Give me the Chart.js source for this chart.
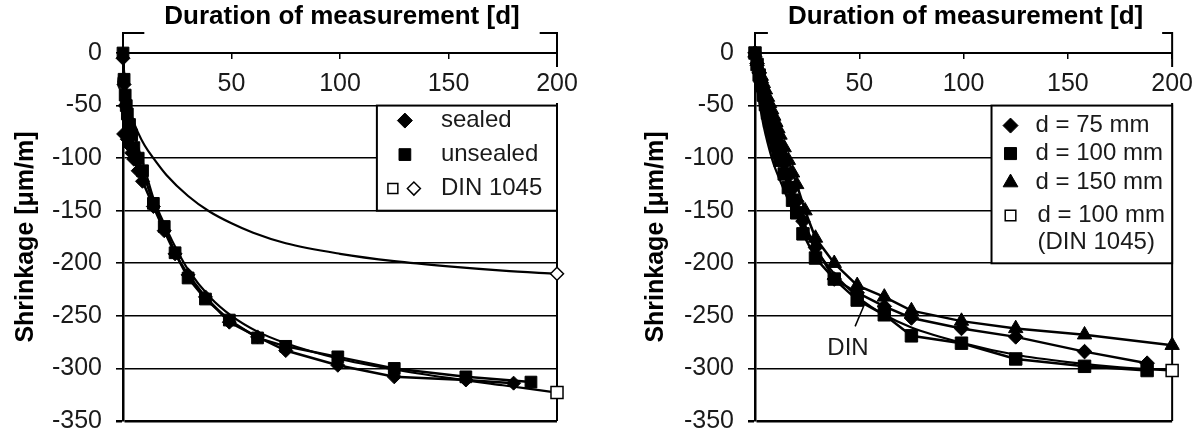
<!DOCTYPE html>
<html>
<head>
<meta charset="utf-8">
<script src="https://cdn.jsdelivr.net/npm/chart.js@4.4.1/dist/chart.umd.min.js"></script>
<style>
  html, body { margin: 0; padding: 0; background: #fff; }
  #wrap { position: relative; width: 1204px; height: 435px; }
  canvas { position: absolute; top: 0; }
</style>
</head>
<body>
<div id="wrap">
  <canvas id="leftChart" width="602" height="435" style="left:0"></canvas>
  <canvas id="rightChart" width="602" height="435" style="left:602px"></canvas>
</div>
<script>
const FONT = '"Liberation Sans", Arial, sans-serif';

// axis ticks + texts
const xTicks = [0, 50, 100, 150, 200];
const yTicks = [0, -50, -100, -150, -200, -250, -300, -350];
const xTitle = 'Duration of measurement [d]';
const yTitle = 'Shrinkage [μm/m]';
const leftLegendLabels = ['sealed', 'unsealed', 'DIN 1045'];
const rightLegendLabels = ['d = 75 mm', 'd = 100 mm', 'd = 150 mm', 'd = 100 mm', '(DIN 1045)'];

// left panel - sealed / unsealed specimens
const sealedDays = [0, 0.5, 1, 0.3, 2, 3, 4, 5, 7, 9, 14, 19, 24, 30, 38, 49, 62, 75, 99, 125, 158, 180];
const sealedShrink = [-5, -30, -50, -77, -82, -88, -95, -101, -112, -122, -146, -169, -191, -211, -232, -256, -270, -283, -297, -308, -311, -314];
const unsealedDays = [0, 0.5, 1, 1.5, 2, 3, 4, 5, 7, 9, 14, 19, 24, 30, 38, 49, 62, 75, 99, 125, 158, 188];
const unsealedShrink = [0, -25, -40, -50, -58, -68, -78, -90, -100, -112, -143, -165, -190, -214, -234, -254, -271, -279, -289, -300, -308, -313];
const dinSealedDays = [0, 0.5, 1, 2, 4, 7, 10, 14, 20, 30, 40, 50, 60, 75, 100, 125, 150, 175, 200];
const dinSealedShrink = [0, -18, -28, -42, -60, -76, -88, -100, -116, -136, -151, -162, -171, -181, -191, -198, -203, -207, -210];
const dinUnsealedDays = [0, 0.5, 1, 2, 4, 7, 10, 14, 20, 25, 30, 40, 50, 62, 75, 100, 125, 150, 175, 200];
const dinUnsealedShrink = [0, -20, -32, -46, -68, -90, -110, -138, -167, -188, -206, -232, -250, -265, -276, -291, -301, -309, -316, -323];

// right panel - specimen thickness
const d75Days = [0, 1, 2, 3, 4, 5, 6, 7, 8, 9, 10, 11, 12, 14, 16, 18, 20, 23, 29, 38, 49, 62, 75, 99, 125, 158, 188];
const d75Shrink = [0, -10, -19, -28, -36, -44, -52, -59, -66, -73, -80, -87, -93, -105, -117, -129, -141, -160, -185, -215, -228, -241, -252, -262, -270, -284, -295];
const d100Days = [0, 1, 2, 3, 4, 5, 6, 7, 8, 9, 10, 11, 12, 14, 16, 18, 20, 23, 29, 38, 49, 62, 75, 99, 125, 158, 188];
const d100Shrink = [0, -11, -21, -31, -40, -49, -57, -65, -73, -80, -88, -95, -102, -115, -128, -140, -152, -172, -195, -215, -235, -249, -269, -276, -291, -298, -302];
const d150Days = [0, 1, 2, 3, 4, 5, 6, 7, 8, 9, 10, 11, 12, 14, 16, 18, 20, 24, 29, 38, 49, 62, 75, 99, 125, 158, 200];
const d150Shrink = [0, -8, -15, -22, -29, -35, -42, -48, -54, -60, -66, -72, -78, -90, -102, -114, -125, -150, -176, -200, -221, -232, -245, -255, -262, -268, -278];
const dinRightDays = [0, 0.5, 1, 2, 4, 6, 9, 12, 16, 20, 28, 38, 50, 62, 75, 100, 125, 150, 175, 200];
const dinRightShrink = [0, -20, -32, -46, -68, -85, -106, -121, -140, -155, -183, -210, -233, -249, -261, -276, -287, -294, -299, -302];

// "DIN" note: text anchor, leader start, leader end (days, shrinkage)
const dinNoteText = [44.6, -281];
const dinNoteLine = [[48, -260], [52.7, -238]];

function pts(xs, ys) {
    return xs.map((x, i) => ({x: x, y: ys[i]}));
}

function measured(xs, ys, style, r) {
    return {
        data: pts(xs, ys),
        showLine: true,
        borderColor: '#000',
        borderWidth: 2.5,
        tension: 0,
        pointStyle: style,
        pointRadius: r,
        pointBackgroundColor: '#000',
        pointBorderColor: '#000',
        pointBorderWidth: 1,
        clip: false
    };
}

function dinCurve(xs, ys, endStyle, r) {
    const last = xs.length - 1;
    return {
        data: pts(xs, ys),
        showLine: true,
        borderColor: '#000',
        borderWidth: 2.2,
        cubicInterpolationMode: 'monotone',
        pointStyle: endStyle,
        pointRadius: c => c.dataIndex === last ? r : 0,
        pointBackgroundColor: '#fff',
        pointBorderColor: '#000',
        pointBorderWidth: 1.5,
        clip: false
    };
}

// outer frame with gaps for title and last x label, plus the title itself
const framePlugin = {
    id: 'frame',
    beforeDatasetsDraw(chart, args, o) {
        const {ctx, chartArea: a, scales} = chart;
        const xs = scales.x;
        ctx.save();
        ctx.font = 'bold 26px ' + FONT;
        const tw = ctx.measureText(o.title).width;
        const cx = (a.left + a.right) / 2 + o.shift;
        const gapL = Math.max(a.left + 10, cx - tw / 2 - 20);
        const gapR = Math.min(a.right - 10, cx + tw / 2 + 20);
        const y0 = scales.y.getPixelForValue(0);
        const bandTop = y0 + xs.options.grid.tickLength + xs.options.ticks.padding - 2;
        const bandBot = bandTop + 36;
        ctx.strokeStyle = '#000';
        ctx.lineWidth = 2;
        ctx.beginPath();
        ctx.moveTo(a.left, a.top);
        ctx.lineTo(a.left, o.top);
        ctx.lineTo(gapL, o.top);
        ctx.moveTo(gapR, o.top);
        ctx.lineTo(a.right, o.top);
        ctx.lineTo(a.right, bandTop);
        ctx.moveTo(a.right, bandBot);
        ctx.lineTo(a.right, a.bottom);
        ctx.stroke();
        ctx.fillStyle = '#000';
        ctx.textAlign = 'center';
        ctx.textBaseline = 'middle';
        ctx.fillText(o.title, cx, o.titleY);
        ctx.restore();
    }
};

// boxed legend in the upper right corner of the plot
const boxLegend = {
    id: 'boxLegend',
    afterDatasetsDraw(chart, args, o) {
        const {ctx, chartArea: a, scales: {x, y}} = chart;
        const left = x.getPixelForValue(o.fromDay);
        const top = y.getPixelForValue(o.top);
        const bottom = y.getPixelForValue(o.bottom);
        ctx.save();
        ctx.fillStyle = '#fff';
        ctx.fillRect(left, top, a.right - left, bottom - top);
        ctx.strokeStyle = '#000';
        ctx.lineWidth = 2;
        ctx.strokeRect(left, top, a.right - left, bottom - top);
        ctx.font = '24px ' + FONT;
        ctx.textBaseline = 'middle';
        ctx.textAlign = 'left';
        o.rows.forEach(row => {
            const cy = top + row.dy;
            (row.marks || []).forEach(m => {
                ctx.fillStyle = m.open ? '#fff' : '#000';
                ctx.strokeStyle = '#000';
                ctx.lineWidth = m.open ? 1.5 : 1;
                Chart.helpers.drawPoint(ctx, {pointStyle: m.style, radius: m.r, rotation: 0, borderWidth: ctx.lineWidth}, left + m.dx, cy);
            });
            ctx.fillStyle = '#1a1a1a';
            ctx.fillText(row.text, left + row.tx, cy);
        });
        ctx.restore();
    }
};

const dinNote = {
    id: 'dinNote',
    afterDatasetsDraw(chart) {
        const {ctx, scales: {x, y}} = chart;
        ctx.save();
        ctx.strokeStyle = '#000';
        ctx.lineWidth = 1.5;
        ctx.beginPath();
        ctx.moveTo(x.getPixelForValue(dinNoteLine[0][0]), y.getPixelForValue(dinNoteLine[0][1]));
        ctx.lineTo(x.getPixelForValue(dinNoteLine[1][0]), y.getPixelForValue(dinNoteLine[1][1]));
        ctx.stroke();
        ctx.font = '24px ' + FONT;
        ctx.fillStyle = '#1a1a1a';
        ctx.textAlign = 'center';
        ctx.textBaseline = 'middle';
        ctx.fillText('DIN', x.getPixelForValue(dinNoteText[0]), y.getPixelForValue(dinNoteText[1]));
        ctx.restore();
    }
};

function makeScales(axisWidth, yTitlePad, showZero) {
    return {
        x: {
            type: 'linear',
            position: {y: 0},
            min: 0,
            max: 200,
            afterBuildTicks: s => { s.ticks = xTicks.map(v => ({value: v})); },
            grid: {drawOnChartArea: false, drawTicks: true, tickLength: 5, color: '#000', lineWidth: 1.5},
            border: {display: true, color: '#000', width: 2},
            ticks: {
                font: {family: FONT, size: 25}, color: '#1a1a1a', padding: 11, maxRotation: 0, autoSkip: false,
                callback: v => (v === 0 && !showZero) ? '' : v
            }
        },
        y: {
            type: 'linear',
            position: 'left',
            min: -350,
            max: 0,
            afterBuildTicks: s => { s.ticks = yTicks.map(v => ({value: v})); },
            afterFit: s => { s.width = axisWidth; s.paddingTop = 0; s.paddingBottom = 0; },
            grid: {color: '#000', lineWidth: c => (c.tick && c.tick.value === -350) ? 2.5 : 1.6, tickLength: 7},
            border: {display: true, color: '#000', width: 2.5},
            ticks: {font: {family: FONT, size: 25}, color: '#1a1a1a', padding: 14},
            title: {
                display: true,
                text: yTitle,
                color: '#000',
                font: {family: FONT, size: 25, weight: 'bold'},
                padding: {top: yTitlePad, bottom: 0}
            }
        }
    };
}

function makeChart(id, datasets, axisWidth, padRight, yTitlePad, showZero, legendOpts, extra) {
    return new Chart(document.getElementById(id), {
        type: 'scatter',
        data: {datasets: datasets},
        options: {
            responsive: false,
            animation: false,
            devicePixelRatio: 1,
            layout: {padding: {left: 0, top: 53, right: padRight, bottom: 14}},
            scales: makeScales(axisWidth, yTitlePad, showZero),
            plugins: {
                legend: {display: false},
                tooltip: {enabled: false},
                frame: {title: xTitle, top: 33, titleY: 17, shift: 2},
                boxLegend: legendOpts
            }
        },
        plugins: [framePlugin, boxLegend].concat(extra || [])
    });
}

makeChart('leftChart', [
    measured(sealedDays, sealedShrink, 'rectRot', 7),
    measured(unsealedDays, unsealedShrink, 'rect', 8.3),
    dinCurve(dinSealedDays, dinSealedShrink, 'rectRot', 6.5),
    dinCurve(dinUnsealedDays, dinUnsealedShrink, 'rect', 8.5)
], 123, 45, 11, true, {
    fromDay: 117, top: -50, bottom: -150,
    rows: [
        {dy: 15, tx: 64, text: leftLegendLabels[0], marks: [{style: 'rectRot', r: 7.5, dx: 28}]},
        {dy: 49, tx: 64, text: leftLegendLabels[1], marks: [{style: 'rect', r: 8.3, dx: 28}]},
        {dy: 83, tx: 64, text: leftLegendLabels[2], marks: [{style: 'rect', r: 7, dx: 16, open: true}, {style: 'rectRot', r: 6.5, dx: 37, open: true}]}
    ]
});

makeChart('rightChart', [
    measured(d75Days, d75Shrink, 'rectRot', 7.3),
    measured(d100Days, d100Shrink, 'rect', 8.8),
    measured(d150Days, d150Shrink, 'triangle', 8.3),
    dinCurve(dinRightDays, dinRightShrink, 'rect', 8.5)
], 153, 22, 39, false, {
    fromDay: 113.4, top: -50, bottom: -200,
    rows: [
        {dy: 20, tx: 44, text: rightLegendLabels[0], marks: [{style: 'rectRot', r: 7.5, dx: 19}]},
        {dy: 48, tx: 44, text: rightLegendLabels[1], marks: [{style: 'rect', r: 8.5, dx: 19}]},
        {dy: 77, tx: 44, text: rightLegendLabels[2], marks: [{style: 'triangle', r: 8.5, dx: 19}]},
        {dy: 110, tx: 46, text: rightLegendLabels[3], marks: [{style: 'rect', r: 7.5, dx: 19, open: true}]},
        {dy: 137, tx: 46, text: rightLegendLabels[4]}
    ]
}, [dinNote]);
</script>
</body>
</html>
